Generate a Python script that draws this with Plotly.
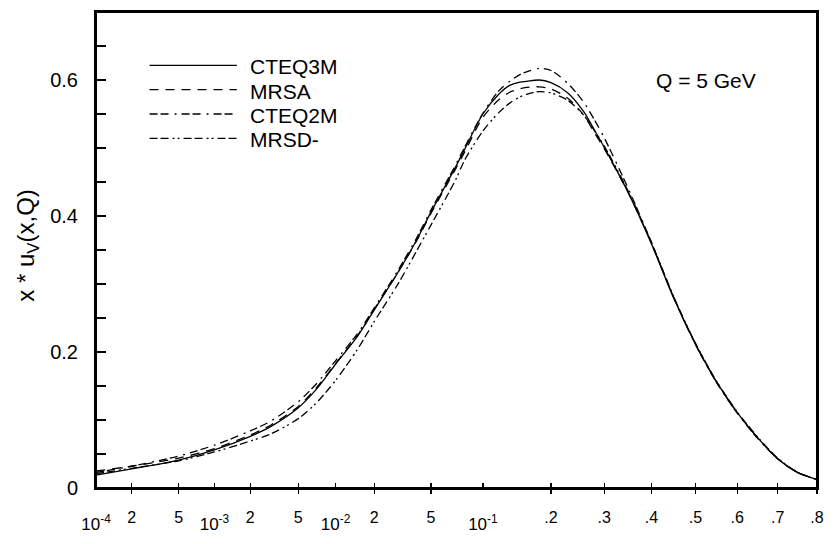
import numpy as np
import plotly.graph_objects as go

# ---------------- data ----------------
x_pts = [1e-4, 2e-4, 5e-4, 1e-3, 2e-3, 3e-3, 5e-3, 7e-3, 1e-2, 0.015, 0.02, 0.03, 0.04, 0.05,
         0.07, 0.08, 0.1, 0.12, 0.135, 0.15, 0.16, 0.18, 0.2, 0.23, 0.26, 0.28, 0.3, 0.35,
         0.4, 0.45, 0.5, 0.55, 0.6, 0.65, 0.7, 0.75, 0.8]

cteq3m = [0.019, 0.028, 0.041, 0.056, 0.076, 0.091, 0.118, 0.145, 0.182, 0.224, 0.262, 0.318,
          0.364, 0.406, 0.470, 0.499, 0.550, 0.579, 0.592, 0.597, 0.598, 0.600, 0.596, 0.581,
          0.553, 0.527, 0.501, 0.434, 0.359, 0.279, 0.212, 0.156, 0.111, 0.074, 0.043, 0.023,
          0.0125]
mrsa = [0.025, 0.032, 0.044, 0.058, 0.078, 0.093, 0.120, 0.147, 0.183, 0.225, 0.263, 0.318,
        0.363, 0.404, 0.467, 0.495, 0.545, 0.571, 0.582, 0.587, 0.589, 0.590, 0.587, 0.573,
        0.548, 0.523, 0.499, 0.434, 0.360, 0.280, 0.212, 0.156, 0.111, 0.074, 0.043, 0.023,
        0.0125]
cteq2m = [0.023, 0.032, 0.047, 0.063, 0.084, 0.099, 0.127, 0.153, 0.187, 0.228, 0.265, 0.321,
          0.367, 0.409, 0.473, 0.502, 0.551, 0.584, 0.598, 0.608, 0.612, 0.617, 0.614, 0.595,
          0.567, 0.542, 0.515, 0.440, 0.361, 0.280, 0.211, 0.155, 0.110, 0.073, 0.043, 0.023,
          0.0125]
mrsd = [0.021, 0.029, 0.040, 0.053, 0.069, 0.080, 0.102, 0.125, 0.158, 0.205, 0.245, 0.301,
        0.348, 0.387, 0.451, 0.483, 0.525, 0.552, 0.566, 0.575, 0.579, 0.583, 0.581, 0.570,
        0.548, 0.526, 0.503, 0.436, 0.361, 0.281, 0.213, 0.157, 0.112, 0.075, 0.044, 0.023,
        0.0125]

series_names = ["CTEQ3M", "MRSA", "CTEQ2M", "MRSD-"]
series_values = [cteq3m, mrsa, cteq2m, mrsd]

x_minor_ticks = [2e-4, 5e-4, 2e-3, 5e-3, 2e-2, 5e-2, 0.2, 0.3, 0.4, 0.5, 0.6, 0.7, 0.8]
x_minor_labels = ["2", "5", "2", "5", "2", "5", ".2", ".3", ".4", ".5", ".6", ".7", ".8"]
x_decade_ticks = [1e-4, 1e-3, 1e-2, 1e-1]
x_decade_labels = ["10<sup>-4</sup>", "10<sup>-3</sup>", "10<sup>-2</sup>", "10<sup>-1</sup>"]

y_ticks = [0, 0.05, 0.1, 0.15, 0.2, 0.25, 0.3, 0.35, 0.4, 0.45, 0.5, 0.55, 0.6, 0.65]
y_tick_labels = ["0", "", "", "", "0.2", "", "", "", "0.4", "", "", "", "0.6", ""]

y_title = "x * u<sub>V</sub>(x,Q)"
note_text = "Q = 5 GeV"

# ---------------- styling ----------------
FONT = "Liberation Sans, Arial, sans-serif"
DASHES = ["solid", "9px,7px", "8px,3px,8px,6px,2px,5px", "8px,3px,8px,4px,2px,3px,2px,4px"]
K_LIN = 2.75  # axis scale: log10(x) + K_LIN * x


def xs(v):
    v = np.asarray(v, dtype=float)
    return np.log10(v) + K_LIN * v


W, H = 834, 544
PL, PR, PT, PB = 96, 823, 10, 500   # plot area in page pixels


def px(xp):
    return (xp - PL) / (PR - PL)


def py(yp):
    return (PB - yp) / (PB - PT)


xr = [float(xs(1e-4)), float(xs(0.8))]

fig = go.Figure()
for name, vals, dash in zip(series_names, series_values, DASHES):
    fig.add_trace(go.Scatter(
        x=xs(x_pts), y=vals, mode="lines", name=name,
        line=dict(color="black", width=1.3, dash=dash, shape="spline", smoothing=0.8),
        showlegend=False, hoverinfo="skip", xaxis="x", yaxis="y"))

# empty traces to activate overlay axes (second label row / crossing ticks)
fig.add_trace(go.Scatter(x=[None], y=[None], xaxis="x2", yaxis="y", showlegend=False))
fig.add_trace(go.Scatter(x=[None], y=[None], xaxis="x3", yaxis="y", showlegend=False))

common_x = dict(range=xr, showgrid=False, zeroline=False, fixedrange=True)
fig.update_layout(
    width=W, height=H,
    margin=dict(l=PL, r=W - PR, t=PT, b=H - PB, pad=0),
    paper_bgcolor="white", plot_bgcolor="white",
    font=dict(family=FONT, color="black"),
    hovermode=False,
    xaxis=dict(**common_x, tickmode="array", tickvals=xs(x_minor_ticks), ticktext=x_minor_labels,
               ticks="outside", ticklen=4, tickwidth=1.3, tickcolor="black",
               showline=True, linewidth=2, linecolor="black", mirror=True,
               tickfont=dict(size=16), ticklabelstandoff=10),
    xaxis2=dict(**common_x, overlaying="x", anchor="y", side="bottom",
                tickmode="array", tickvals=xs(x_decade_ticks), ticktext=x_decade_labels,
                ticks="", showline=False, tickfont=dict(size=17), ticklabelstandoff=24),
    xaxis3=dict(**common_x, overlaying="x", anchor="y", side="bottom",
                tickmode="array", tickvals=xs(x_decade_ticks + x_minor_ticks),
                ticks="inside", ticklen=5, tickwidth=1.3, tickcolor="black",
                showticklabels=False, showline=False),
    yaxis=dict(range=[0, 0.7], showgrid=False, zeroline=False, fixedrange=True,
               tickmode="array", tickvals=y_ticks, ticktext=y_tick_labels,
               ticks="inside", ticklen=10, tickwidth=1.3, tickcolor="black",
               showline=True, linewidth=2, linecolor="black", mirror=True,
               tickfont=dict(size=20), ticklabelstandoff=12),
)

annotations = [
    dict(text=y_title, xref="paper", yref="paper", x=px(27), y=py(250),
         xanchor="center", yanchor="middle", textangle=-90, showarrow=False,
         font=dict(size=24, family=FONT)),
    dict(text=note_text, xref="paper", yref="paper", x=px(659), y=py(80),
         xanchor="left", yanchor="middle", showarrow=False, font=dict(size=21, family=FONT)),
]
shapes = [dict(type="rect", xref="paper", yref="paper", x0=0, x1=1, y0=0, y1=1,
               line=dict(color="black", width=2), fillcolor="rgba(0,0,0,0)", layer="above")]
for i, (name, dash) in enumerate(zip(series_names, DASHES)):
    yy = 65 + 25 * i
    shapes.append(dict(type="line", xref="paper", yref="paper",
                       x0=px(150), x1=px(238), y0=py(yy), y1=py(yy),
                       line=dict(color="black", width=1.3, dash=dash)))
    annotations.append(dict(text=name, xref="paper", yref="paper", x=px(249), y=py(yy + 1.5),
                            xanchor="left", yanchor="middle", showarrow=False,
                            font=dict(size=21, family=FONT)))
fig.update_layout(annotations=annotations, shapes=shapes)

fig.write_html("out.html", config={"displayModeBar": False, "staticPlot": True},
               post_script="document.body.style.margin='0';document.body.style.overflow='hidden';")
